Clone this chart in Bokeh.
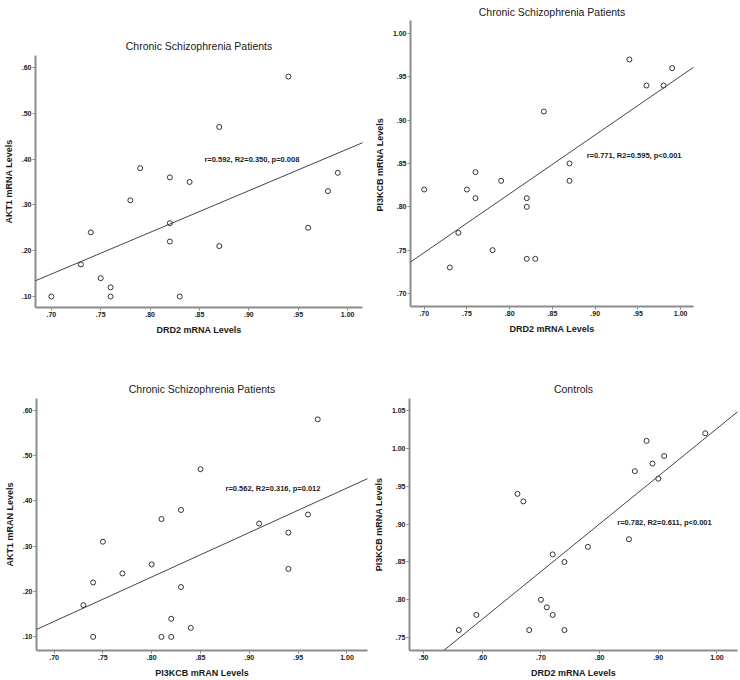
import numpy as np
from bokeh.plotting import figure
from bokeh.models import Range1d, FixedTicker, CustomJSTickFormatter, Slope, Label
from bokeh.layouts import column, row
from bokeh.embed import file_html
from bokeh.resources import INLINE

# ---------------- data ----------------
# Panel 1: Chronic Schizophrenia Patients, DRD2 vs AKT1
p1_drd2 = [0.70, 0.73, 0.74, 0.75, 0.76, 0.76, 0.78, 0.79, 0.82, 0.82, 0.82, 0.83, 0.84, 0.87, 0.87, 0.94, 0.96, 0.98, 0.99]
p1_akt1 = [0.10, 0.17, 0.24, 0.14, 0.12, 0.10, 0.31, 0.38, 0.36, 0.26, 0.22, 0.10, 0.35, 0.47, 0.21, 0.58, 0.25, 0.33, 0.37]
p1_stat = "r=0.592, R2=0.350, p=0.008"

# Panel 2: Chronic Schizophrenia Patients, DRD2 vs PI3KCB
p2_drd2 = [0.70, 0.73, 0.74, 0.75, 0.76, 0.76, 0.78, 0.79, 0.82, 0.82, 0.82, 0.83, 0.84, 0.87, 0.87, 0.94, 0.96, 0.98, 0.99]
p2_pi3kcb = [0.82, 0.73, 0.77, 0.82, 0.84, 0.81, 0.75, 0.83, 0.81, 0.80, 0.74, 0.74, 0.91, 0.85, 0.83, 0.97, 0.94, 0.94, 0.96]
p2_stat = "r=0.771, R2=0.595, p<0.001"

# Panel 3: Chronic Schizophrenia Patients, PI3KCB vs AKT1
p3_pi3kcb = [0.73, 0.74, 0.74, 0.75, 0.77, 0.80, 0.81, 0.81, 0.82, 0.82, 0.83, 0.83, 0.84, 0.85, 0.91, 0.94, 0.94, 0.96, 0.97]
p3_akt1 = [0.17, 0.22, 0.10, 0.31, 0.24, 0.26, 0.36, 0.10, 0.14, 0.10, 0.38, 0.21, 0.12, 0.47, 0.35, 0.33, 0.25, 0.37, 0.58]
p3_stat = "r=0.562, R2=0.316, p=0.012"

# Panel 4: Controls, DRD2 vs PI3KCB
p4_drd2 = [0.56, 0.59, 0.66, 0.67, 0.68, 0.70, 0.71, 0.72, 0.72, 0.74, 0.74, 0.78, 0.85, 0.86, 0.88, 0.89, 0.90, 0.91, 0.98]
p4_pi3kcb = [0.76, 0.78, 0.94, 0.93, 0.76, 0.80, 0.79, 0.86, 0.78, 0.85, 0.76, 0.87, 0.88, 0.97, 1.01, 0.98, 0.96, 0.99, 1.02]
p4_stat = "r=0.782, R2=0.611, p<0.001"

titles = ["Chronic Schizophrenia Patients", "Chronic Schizophrenia Patients",
          "Chronic Schizophrenia Patients", "Controls"]
x_labels = ["DRD2 mRNA Levels", "DRD2 mRNA Levels", "PI3KCB mRAN Levels", "DRD2 mRNA Levels"]
y_labels = ["AKT1 mRNA Levels", "PI3KCB  mRNA Levels", "AKT1 mRAN Levels", "PI3KCB mRNA Levels"]

ticks_70_100 = [0.70, 0.75, 0.80, 0.85, 0.90, 0.95, 1.00]
ticks_10_60 = [0.10, 0.20, 0.30, 0.40, 0.50, 0.60]
ticks_50_100 = [0.50, 0.60, 0.70, 0.80, 0.90, 1.00]
ticks_75_105 = [0.75, 0.80, 0.85, 0.90, 0.95, 1.00, 1.05]

FONT = "Liberation Sans"
fmt_code = "return tick.toFixed(2).replace(/^0/, '');"


def panel(xs, ys, title, xlabel, ylabel, stat, xr, yr, xticks, yticks,
          w, h, bl, br, bt, bb, lab_xy, title_standoff=8):
    p = figure(width=w, height=h, output_backend="svg", toolbar_location=None,
               x_range=Range1d(*xr), y_range=Range1d(*yr),
               min_border_left=bl, min_border_right=br,
               min_border_top=bt, min_border_bottom=bb)
    p.frame_align = False
    p.title.text = title
    p.title.align = "center"
    p.title.text_font = FONT
    p.title.text_font_size = "10.5px"
    p.title.text_font_style = "normal"
    p.title.text_color = "#1a1a1a"
    p.title.standoff = title_standoff
    p.outline_line_color = None
    p.grid.visible = False
    p.background_fill_color = "white"
    p.border_fill_color = "white"

    for ax, tks, lab in ((p.xaxis[0], xticks, xlabel), (p.yaxis[0], yticks, ylabel)):
        ax.ticker = FixedTicker(ticks=tks)
        ax.formatter = CustomJSTickFormatter(code=fmt_code)
        ax.axis_label = lab
        ax.axis_label_text_font = FONT
        ax.axis_label_text_font_size = "9px"
        ax.axis_label_text_font_style = "bold"
        ax.axis_label_text_color = "#1a1a1a"
        ax.axis_label_standoff = 5
        ax.major_label_text_font = FONT
        ax.major_label_text_font_size = "7px"
        ax.major_label_text_font_style = "bold"
        ax.major_label_text_color = "#1a1a1a"
        ax.major_label_standoff = 1
        ax.axis_line_color = "#8c8c8c"
        ax.axis_line_width = 2
        ax.major_tick_line_color = "#8c8c8c"
        ax.major_tick_line_width = 1
        ax.major_tick_in = 0
        ax.major_tick_out = 3
        ax.minor_tick_line_color = None

    x = np.array(xs)
    y = np.array(ys)
    m, b = np.polyfit(x, y, 1)
    p.add_layout(Slope(gradient=m, y_intercept=b, line_color="#444444", line_width=1))
    p.scatter(xs, ys, marker="circle", size=5, fill_color=None,
              line_color="#333333", line_width=1)
    p.add_layout(Label(x=lab_xy[0], y=lab_xy[1], text=stat, text_font=FONT,
                       text_font_size="7.5px", text_font_style="bold",
                       text_color="#1a1a1a", text_baseline="middle", text_align="left"))
    return p


f1 = panel(p1_drd2, p1_akt1, titles[0], x_labels[0], y_labels[0], p1_stat,
           (0.684, 1.015), (0.076, 0.626), ticks_70_100, ticks_10_60,
           370, 345, 32, 8, 55, 38, (0.855, 0.40))
f2 = panel(p2_drd2, p2_pi3kcb, titles[1], x_labels[1], y_labels[1], p2_stat,
           (0.684, 1.015), (0.685, 1.015), ticks_70_100, ticks_70_100,
           370, 345, 40, 47, 20, 39, (0.89, 0.859), title_standoff=5)
f3 = panel(p3_pi3kcb, p3_akt1, titles[2], x_labels[2], y_labels[2], p3_stat,
           (0.682, 1.021), (0.070, 0.626), ticks_70_100, ticks_10_60,
           370, 335, 36, 3, 53, 28, (0.8756, 0.427))
f4 = panel(p4_drd2, p4_pi3kcb, titles[3], x_labels[3], y_labels[3], p4_stat,
           (0.476, 1.035), (0.733, 1.066), ticks_50_100, ticks_75_105,
           370, 335, 39, 3, 53, 29, (0.83, 0.9015))

layout = column(row(f1, f2), row(f3, f4))
open("out.html", "w").write(file_html(layout, INLINE))
